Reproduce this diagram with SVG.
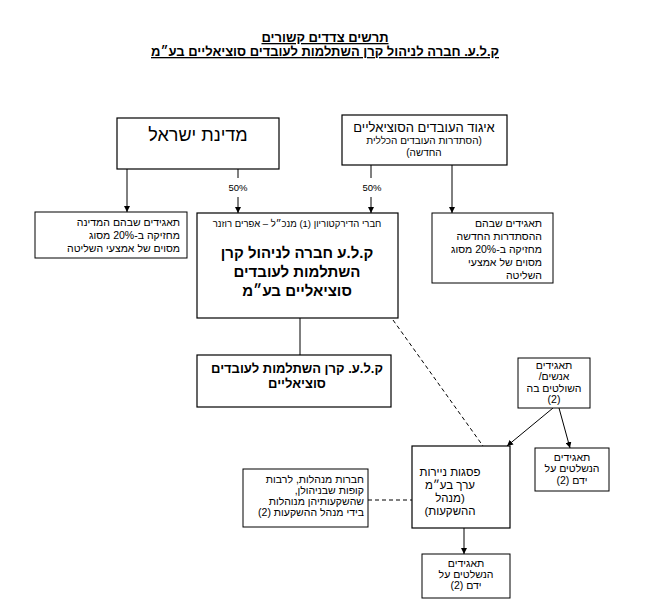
<svg xmlns="http://www.w3.org/2000/svg" width="648" height="609" viewBox="0 0 648 609">
<style>
text{font-family:"Liberation Sans","DejaVu Sans",sans-serif;fill:#000;direction:rtl}
.box{fill:#fff;stroke:#000;stroke-width:1.2}
.dbox{fill:#fff;stroke:#000;stroke-width:1}
.ln{stroke:#000;stroke-width:1;fill:none}
.dash{stroke:#000;stroke-width:1;fill:none;stroke-dasharray:4,3}
.t{font-size:13px;font-weight:bold;text-decoration:underline;text-anchor:middle}
.s9{font-size:10.5px}
.c{text-anchor:middle}
.r{text-anchor:start}
.big{font-size:15px;font-weight:bold;text-anchor:middle}
</style>
<defs>
<marker id="ah" viewBox="0 0 10 10" refX="10" refY="5" markerWidth="6" markerHeight="6" orient="auto" markerUnits="userSpaceOnUse">
<path d="M0,0 L10,5 L0,10 z" fill="#000"/>
</marker>
</defs>
<rect width="648" height="609" fill="#fff"/>
<g id="title">
<text class="t" x="325" y="42">תרשים צדדים קשורים</text>
<text class="t" x="325" y="56">ק.ל.ע. חברה לניהול קרן השתלמות לעובדים סוציאליים בע״מ</text>
</g>
<g id="connectors">
<line class="ln" x1="127" y1="169" x2="127" y2="212" marker-end="url(#ah)"/>
<line class="ln" x1="238" y1="169" x2="238" y2="178"/>
<text class="c" x="238" y="191" style="font-size:9.5px">50%</text>
<line class="ln" x1="238" y1="197" x2="238" y2="213" marker-end="url(#ah)"/>
<line class="ln" x1="371" y1="165" x2="371" y2="178"/>
<text class="c" x="372" y="191" style="font-size:9.5px">50%</text>
<line class="ln" x1="371" y1="197" x2="371" y2="213" marker-end="url(#ah)"/>
<line class="ln" x1="452" y1="165" x2="452" y2="213" marker-end="url(#ah)"/>
<line class="ln" x1="300" y1="318" x2="300" y2="355"/>
<line class="dash" x1="393" y1="320" x2="483" y2="446"/>
<line class="ln" x1="553" y1="408" x2="507" y2="446" marker-end="url(#ah)"/>
<line class="ln" x1="559" y1="408" x2="570" y2="448" marker-end="url(#ah)"/>
<line class="dash" x1="368" y1="500" x2="412" y2="500"/>
<line class="ln" x1="464" y1="528" x2="464" y2="554" marker-end="url(#ah)"/>
</g>
<g id="state">
<rect class="box" x="117" y="118" width="162" height="51"/>
<text class="c" x="198" y="141" style="font-size:18px">מדינת ישראל</text>
</g>
<g id="union">
<rect class="box" x="342" y="115" width="165" height="50"/>
<text class="c" x="424" y="132" style="font-size:13px">איגוד העובדים הסוציאליים</text>
<text class="c" x="424" y="144" style="font-size:10px">(הסתדרות העובדים הכללית</text>
<text class="c" x="424" y="156" style="font-size:10px">החדשה)</text>
</g>
<g id="state-corps">
<rect class="dbox" x="35" y="212" width="152" height="46"/>
<text class="s9 r" x="180" y="226">תאגידים שבהם המדינה</text>
<text class="s9 r" x="180" y="239">מחזיקה ב-20% מסוג</text>
<text class="s9 r" x="180" y="252">מסוים של אמצעי השליטה</text>
</g>
<g id="kla-company">
<rect class="box" x="197" y="213" width="201" height="105"/>
<text class="c" x="297" y="227" style="font-size:9.5px">חברי הדירקטוריון (1) מנכ״ל – אפרים רוזנר</text>
<text class="big" x="297" y="258">ק.ל.ע חברה לניהול קרן</text>
<text class="big" x="297" y="277">השתלמות לעובדים</text>
<text class="big" x="297" y="296">סוציאליים בע״מ</text>
</g>
<g id="histadrut-corps">
<rect class="dbox" x="432" y="213" width="121" height="70"/>
<text class="s9 r" x="542" y="227">תאגידים שבהם</text>
<text class="s9 r" x="542" y="240">ההסתדרות החדשה</text>
<text class="s9 r" x="542" y="253">מחזיקה ב-20% מסוג</text>
<text class="s9 r" x="542" y="266">מסוים של אמצעי</text>
<text class="s9 r" x="542" y="279">השליטה</text>
</g>
<g id="kla-fund">
<rect class="box" x="197" y="355" width="194" height="52"/>
<text class="c" x="297" y="373" style="font-size:13px;font-weight:bold">ק.ל.ע. קרן השתלמות לעובדים</text>
<text class="c" x="297" y="388" style="font-size:13px;font-weight:bold">סוציאליים</text>
</g>
<g id="controllers">
<rect class="dbox" x="518" y="358" width="72" height="50"/>
<text class="s9 c" x="554" y="369">תאגידים</text>
<text class="s9 c" x="554" y="380">אנשים/</text>
<text class="s9 c" x="554" y="392">השולטים בה</text>
<text class="s9 c" x="554" y="403">(2)</text>
</g>
<g id="controlled-a">
<rect class="dbox" x="535" y="448" width="74" height="43"/>
<text class="s9 c" x="572" y="461">תאגידים</text>
<text class="s9 c" x="572" y="472">הנשלטים על</text>
<text class="s9 c" x="572" y="484">ידם (2)</text>
</g>
<g id="managers">
<rect class="dbox" x="243" y="469" width="125" height="58"/>
<text class="s9 r" x="364" y="483">חברות מנהלות, לרבות</text>
<text class="s9 r" x="364" y="494">קופות שבניהולן,</text>
<text class="s9 r" x="364" y="505">שהשקעותיהן מנוהלות</text>
<text class="s9 r" x="364" y="516">בידי מנהל ההשקעות (2)</text>
</g>
<g id="psagot">
<rect class="box" x="412" y="446" width="98" height="82"/>
<text class="c" x="450" y="476" style="font-size:11.5px">פסגות ניירות</text>
<text class="c" x="450" y="489" style="font-size:11.5px">ערך בע״מ</text>
<text class="c" x="450" y="502" style="font-size:11.5px">(מנהל</text>
<text class="c" x="450" y="515" style="font-size:11.5px">ההשקעות)</text>
</g>
<g id="controlled-b">
<rect class="dbox" x="422" y="554" width="88" height="44"/>
<text class="s9 c" x="466" y="567">תאגידים</text>
<text class="s9 c" x="466" y="578">הנשלטים על</text>
<text class="s9 c" x="466" y="589">ידם (2)</text>
</g>
</svg>
